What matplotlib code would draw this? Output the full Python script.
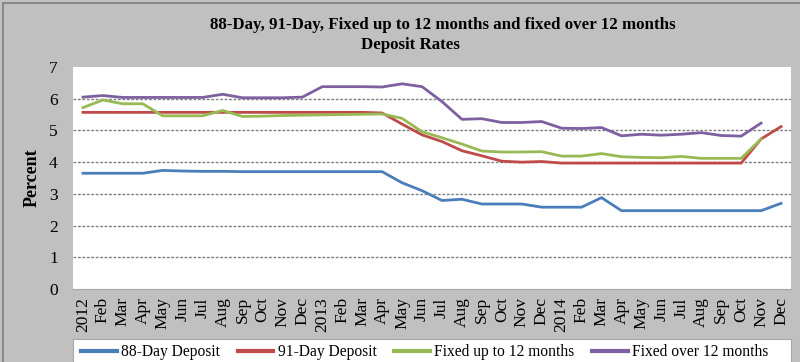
import matplotlib
matplotlib.use("Agg")
import matplotlib.pyplot as plt
from matplotlib.patches import Rectangle

# month labels, Jan 2012 .. Dec 2014
months = ["Feb", "Mar", "Apr", "May", "Jun", "Jul", "Aug", "Sep", "Oct", "Nov", "Dec"]
labels = ["2012"] + months + ["2013"] + months + ["2014"] + months

# rates (percent)
day88 = [3.65, 3.65, 3.65, 3.65, 3.74, 3.72, 3.71, 3.71, 3.70, 3.70, 3.70, 3.70,
         3.70, 3.70, 3.70, 3.70, 3.35, 3.10, 2.79, 2.83, 2.68, 2.68, 2.68, 2.58,
         2.58, 2.58, 2.88, 2.47, 2.47, 2.47, 2.47, 2.47, 2.47, 2.47, 2.47, 2.70]
day91 = [5.57, 5.57, 5.57, 5.57, 5.57, 5.57, 5.57, 5.57, 5.57, 5.57, 5.57, 5.57,
         5.57, 5.57, 5.57, 5.55, 5.20, 4.86, 4.65, 4.36, 4.20, 4.03, 4.00, 4.02,
         3.97, 3.97, 3.97, 3.97, 3.97, 3.97, 3.97, 3.97, 3.97, 3.97, 4.73, 5.12]
fixed_upto12 = [5.72, 5.96, 5.84, 5.84, 5.46, 5.46, 5.46, 5.63, 5.44, 5.45, 5.47, 5.48,
                5.49, 5.50, 5.51, 5.52, 5.38, 4.96, 4.77, 4.57, 4.35, 4.32, 4.32, 4.33,
                4.19, 4.19, 4.27, 4.17, 4.15, 4.14, 4.18, 4.12, 4.12, 4.12, 4.73, None]
fixed_over12 = [6.05, 6.10, 6.04, 6.04, 6.04, 6.04, 6.04, 6.14, 6.03, 6.03, 6.03, 6.05,
                6.38, 6.38, 6.38, 6.37, 6.47, 6.38, 5.91, 5.35, 5.37, 5.25, 5.25, 5.28,
                5.07, 5.06, 5.09, 4.83, 4.88, 4.85, 4.88, 4.93, 4.84, 4.82, 5.23, None]

series = [("88-Day Deposit", day88, "#4a7ebb"),
          ("91-Day Deposit", day91, "#be4b48"),
          ("Fixed up to 12 months", fixed_upto12, "#98b954"),
          ("Fixed over 12 months", fixed_over12, "#7d60a0")]

plt.rcParams["font.family"] = ["Liberation Serif", "DejaVu Serif"]

fig = plt.figure(figsize=(8, 3.62), dpi=100, facecolor="#c0c0c0")
fig.patches.append(Rectangle((3 / 800, -0.1), 1.1, 1.1 - 4 / 362 + 0.002,
                             transform=fig.transFigure, facecolor="none",
                             edgecolor="#7f7f7f", linewidth=1.2, zorder=0))
ax = fig.add_axes([73 / 800, 73 / 362, 718 / 800, 222 / 362])
ax.set_facecolor("white")

x = list(range(len(labels)))
for name, vals, col in series:
    xs = [i for i, v in zip(x, vals) if v is not None]
    ys = [v for v in vals if v is not None]
    ax.plot(xs, ys, color=col, linewidth=2.0, label=name, solid_joinstyle="round")

ax.set_xlim(-0.5, len(labels) - 0.5)
ax.set_ylim(0, 7)
ax.set_yticks(range(8))
for yv in range(1, 7):
    ax.axhline(yv, color="#7f7f7f", linewidth=1.0, linestyle=(0, (2, 1.2)), zorder=0)

ax.set_xticks(x)
ax.set_xticklabels(labels, rotation=90, fontsize=12.5)
ax.tick_params(axis="x", length=0, pad=6)
ax.tick_params(axis="y", length=0, pad=11, labelsize=12.5)
for s in ["top", "right", "left"]:
    ax.spines[s].set_visible(False)
ax.spines["bottom"].set_color("#a6a6a6")

ax.set_ylabel("Percent", fontsize=13, fontweight="bold", labelpad=6)

fig.text(443 / 800, 1 - 25 / 362, "88-Day, 91-Day, Fixed up to 12 months and fixed over 12 months",
         ha="center", va="center", fontsize=12.2, fontweight="bold")
fig.text(410 / 800, 1 - 45 / 362, "Deposit Rates",
         ha="center", va="center", fontsize=12.2, fontweight="bold")

# legend box runs off the bottom edge
fig.patches.append(Rectangle((73 / 800, -0.05), 718 / 800, 0.05 + 23 / 362,
                             transform=fig.transFigure, facecolor="white",
                             edgecolor="#a6a6a6", linewidth=0.8, zorder=1))
leg = fig.legend(loc="center left", bbox_to_anchor=(81 / 800, 10 / 362), ncol=4,
                 frameon=False, fontsize=11.2, handlelength=2.3, handletextpad=0.26,
                 columnspacing=1.15, borderaxespad=0, borderpad=0)
for line in leg.get_lines():
    line.set_linewidth(3)

fig.savefig("out.png", dpi=100, facecolor=fig.get_facecolor())
